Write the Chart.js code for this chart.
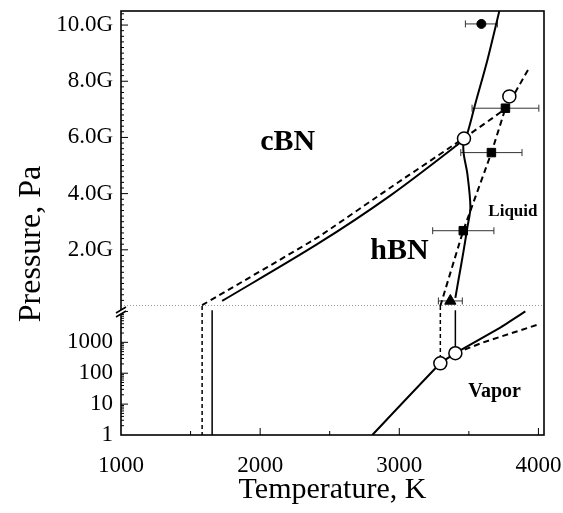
<!DOCTYPE html>
<html>
<head>
<meta charset="utf-8">
<script src="https://cdn.jsdelivr.net/npm/chart.js@4/dist/chart.umd.min.js"></script>
<style>body{margin:0;background:#fff}</style>
</head>
<body>
<canvas id="myChart" width="563" height="513"></canvas>
<script>
// temperatures in K; upper panel pressures in GPa, lower panel in Pa (log)
const cbnSolidT = [1727, 2410, 2935, 3439, 3465];
const cbnSolidP = [0.18, 2.2, 3.93, 5.82, 5.96];
const cbnDashT = [1583, 2410, 2935, 3465, 3763, 3928];
const cbnDashP = [0.03, 2.43, 4.21, 5.98, 7.04, 8.43];
const meltSolidT = [3719, 3633, 3547, 3489, 3465, 3462, 3489, 3511, 3489, 3462, 3424, 3403];
const meltSolidP = [10.5, 8.75, 7.21, 6.14, 5.96, 5.46, 4.71, 3.5, 2.79, 1.96, 0.89, 0.29];
const meltDashT = [3295, 3460, 3662, 3763];
const meltDashP = [0, 2.68, 5.46, 7.04];

// measured points with temperature error
const dotT = [3590], dotP = [10.04], dotErr = [115];
const sqT = [3763, 3662, 3460], sqP = [7.04, 5.46, 2.68], sqErr = [240, 220, 220];
const triT = [3367], triP = [0.18], triErr = [86];
// triple points
const tripleT = [3465, 3791], tripleP = [5.96, 7.46];

// lower panel
const vapSolidT = [2806, 3295, 3403, 3726, 3906];
const vapSolidP = [1, 209, 445, 3000, 10000];
const vapDashT = [3403, 3604, 4000];
const vapDashP = [445, 1000, 3800];
const lowTripleT = [3295, 3403], lowTripleP = [209, 445];
const dropDashT = [1583, 3295], dropDashTop = [15000, 15000], dropDashBot = [1, 209];
const dropSolidT = [1655, 3403], dropSolidTop = [11000, 11000], dropSolidBot = [1, 445];

const tempTicks = [1000, 2000, 3000, 4000];
const gpaTicks = [2, 4, 6, 8, 10];
const paTicks = [1, 10, 100, 1000];

const regionNames = ['cBN', 'hBN', 'Liquid', 'Vapor'];
const regionT = [2000, 2791, 3640, 3496];
const regionP = [5.54, 1.68, 3.21, 17];

const FONT = '"Liberation Serif", "Times New Roman", serif';
const pts = (T, P) => T.map((t, i) => ({x: t, y: P[i]}));

function line(data, axis, dashed, width, tension) {
    return {
        data: data, yAxisID: axis,
        borderColor: '#000', borderWidth: width || 2,
        borderDash: dashed ? [6, 4] : [],
        pointRadius: 0, tension: tension === undefined ? 0.3 : tension, order: 1
    };
}
function marker(data, axis, style, r, open) {
    return {
        data: data, yAxisID: axis, showLine: false,
        pointStyle: style, pointRadius: r,
        backgroundColor: open ? '#fff' : '#000',
        borderColor: '#000', borderWidth: open ? 1.5 : 1, order: 0
    };
}

const datasets = [
    marker(pts(tripleT, tripleP), 'yTop', 'circle', 6.5, true),
    marker(pts(lowTripleT, lowTripleP), 'yBot', 'circle', 6.5, true),
    marker(pts(dotT, dotP), 'yTop', 'circle', 4.5),
    marker(pts(sqT, sqP), 'yTop', 'rect', 6),
    marker(pts(triT, triP), 'yTop', 'triangle', 6.5),
    line(pts(cbnSolidT, cbnSolidP), 'yTop', false),
    line(pts(cbnDashT, cbnDashP), 'yTop', true, 2, 0.1),
    line(pts(meltSolidT, meltSolidP), 'yTop', false),
    line(pts(meltDashT, meltDashP), 'yTop', true, 2, 0.1),
    line(pts(vapSolidT, vapSolidP), 'yBot', false, 2, 0.1),
    line(pts(vapDashT, vapDashP), 'yBot', true, 2, 0),
    {
        data: [{x: 1000, y: 0}, {x: 4040, y: 0}], yAxisID: 'yTop',
        borderColor: '#333', borderWidth: 1, borderDash: [1, 2], pointRadius: 0, order: 1
    }
];
dropDashT.forEach((t, i) => {
    const d = line([{x: t, y: dropDashTop[i]}, {x: t, y: dropDashBot[i]}], 'yBot', true, 1.5, 0);
    d.borderDash = [4, 3];
    datasets.push(d);
});
dropSolidT.forEach((t, i) => {
    datasets.push(line([{x: t, y: dropSolidTop[i]}, {x: t, y: dropSolidBot[i]}], 'yBot', false, 1.5, 0));
});
// horizontal error bars
[[dotT, dotP, dotErr], [sqT, sqP, sqErr], [triT, triP, triErr]].forEach(([T, P, E]) => {
    T.forEach((t, i) => {
        datasets.push({
            data: [{x: t - E[i], y: P[i]}, {x: t + E[i], y: P[i]}], yAxisID: 'yTop',
            borderColor: '#333', borderWidth: 1, pointStyle: 'line', rotation: 90,
            pointRadius: 3.5, pointBorderWidth: 1, order: 2
        });
    });
});

const decor = {
    id: 'decor',
    afterDatasetsDraw(chart) {
        const {ctx, chartArea: a, scales: {x, yTop, yBot}} = chart;
        ctx.save();
        ctx.strokeStyle = '#000';
        ctx.lineWidth = 1;
        const seg = (x1, y1, x2, y2) => { ctx.beginPath(); ctx.moveTo(x1, y1); ctx.lineTo(x2, y2); ctx.stroke(); };
        for (let t = 1500; t <= 4000; t += 500) {
            const px = x.getPixelForValue(t);
            seg(px, a.bottom, px, a.bottom - (t % 1000 ? 4 : 7));
        }
        for (let i = 1; i <= 52; i++) {
            const py = yTop.getPixelForValue(i * 0.2);
            seg(a.left, py, a.left + (i % 10 ? 3 : 7), py);
        }
        for (let d = 1; d <= 10000; d *= 10) {
            for (let k = 1; k <= 9; k++) {
                const v = d * k;
                if (v > 15000 || v === 1) continue;
                const py = yBot.getPixelForValue(v);
                seg(a.left, py, a.left + (k === 1 ? 7 : 3), py);
            }
        }
        // frame
        ctx.lineWidth = 1.6;
        ctx.strokeRect(a.left, a.top, a.right - a.left, a.bottom - a.top);
        // axis break marks
        const yb = yTop.bottom;
        ctx.fillStyle = '#fff';
        ctx.beginPath();
        ctx.moveTo(a.left - 5, yb + 7); ctx.lineTo(a.left + 5, yb + 1);
        ctx.lineTo(a.left + 5, yb + 5); ctx.lineTo(a.left - 5, yb + 11); ctx.closePath();
        ctx.fill();
        ctx.lineWidth = 1.5;
        seg(a.left - 5, yb + 7, a.left + 5, yb + 1);
        seg(a.left - 5, yb + 11, a.left + 5, yb + 5);
        // y title
        ctx.fillStyle = '#000';
        ctx.font = '32px ' + FONT;
        ctx.textAlign = 'center';
        ctx.textBaseline = 'alphabetic';
        ctx.save();
        ctx.translate(40, 244);
        ctx.rotate(-Math.PI / 2);
        ctx.fillText('Pressure, Pa', 0, 0);
        ctx.restore();
        // region names
        ctx.textAlign = 'left';
        const sizes = [30, 30, 17, 20];
        regionNames.forEach((name, i) => {
            const ys = i === 3 ? yBot : yTop;
            ctx.font = 'bold ' + sizes[i] + 'px ' + FONT;
            ctx.fillText(name, x.getPixelForValue(regionT[i]), ys.getPixelForValue(regionP[i]));
        });
        ctx.restore();
    }
};

const tickFont = {family: FONT, size: 23};
const noPad = s => { s.paddingTop = 0; s.paddingBottom = 0; s.paddingLeft = 0; s.paddingRight = 0; };

const config = {
    type: 'line',
    data: {datasets: datasets},
    options: {
        responsive: false,
        animation: false,
        events: [],
        layout: {autoPadding: false, padding: {left: 0, right: 19, top: 11, bottom: 0}},
        plugins: {legend: {display: false}, tooltip: {enabled: false}},
        scales: {
            x: {
                type: 'linear', position: 'bottom', min: 1000, max: 4040,
                grid: {display: false}, border: {display: false},
                afterBuildTicks: s => { s.ticks = tempTicks.map(v => ({value: v})); },
                afterFit: s => { s.height = 78; noPad(s); },
                ticks: {font: tickFont, color: '#000', padding: 9, maxRotation: 0, autoSkip: false,
                        callback: v => String(v)},
                title: {display: true, text: 'Temperature, K', color: '#000',
                        font: {family: FONT, size: 30}, padding: {top: 0, bottom: 5}}
            },
            yBot: {
                type: 'logarithmic', position: 'left', stack: 'p', stackWeight: 129,
                min: 1, max: 15000,
                grid: {display: false}, border: {display: false},
                afterBuildTicks: s => { s.ticks = paTicks.map(v => ({value: v})); },
                afterFit: s => { s.width = 121; noPad(s); },
                ticks: {font: tickFont, color: '#000', padding: 0, autoSkip: false,
                        callback: v => String(v)}
            },
            yTop: {
                type: 'linear', position: 'left', stack: 'p', stackWeight: 295,
                min: 0, max: 10.5,
                grid: {display: false}, border: {display: false},
                afterBuildTicks: s => { s.ticks = gpaTicks.map(v => ({value: v})); },
                afterFit: s => { s.width = 121; noPad(s); },
                ticks: {font: tickFont, color: '#000', padding: 0, autoSkip: false,
                        callback: v => v.toFixed(1) + 'G'}
            }
        }
    },
    plugins: [decor]
};

const ctx = document.getElementById('myChart').getContext('2d');
new Chart(ctx, config);
</script>
</body>
</html>
